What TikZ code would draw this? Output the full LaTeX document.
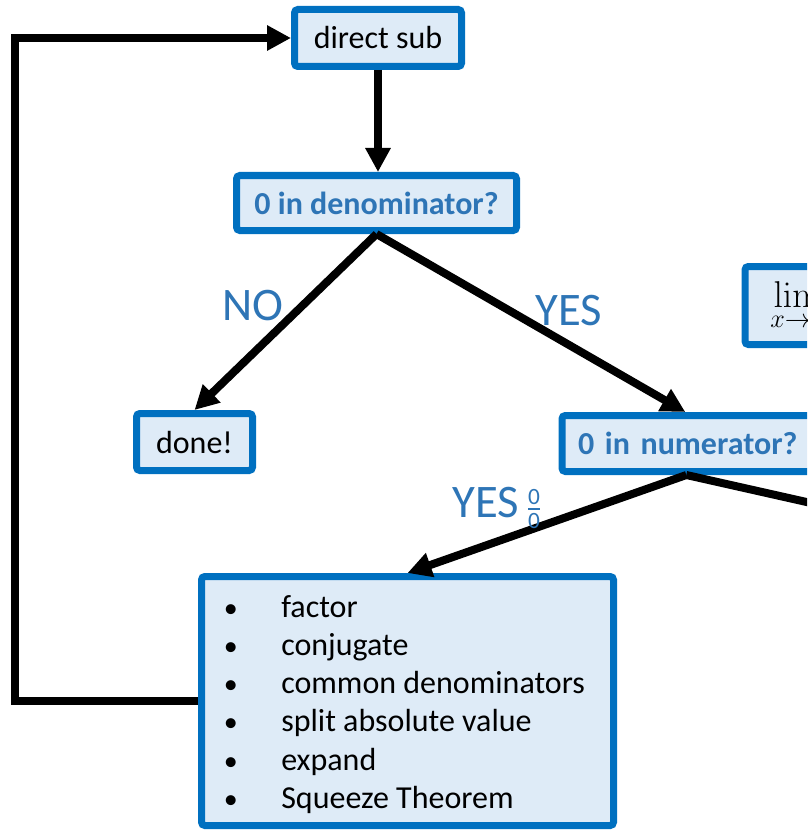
\RequirePackage{fix-cm}
\documentclass[tikz,border=0pt]{standalone}
\usepackage{amsmath}
\usepackage[no-math]{fontspec}
\setmainfont{Carlito}
\usetikzlibrary{arrows.meta,calc}
\definecolor{boxblue}{HTML}{0070C0}
\definecolor{boxfill}{HTML}{DEEBF7}
\definecolor{textblue}{HTML}{2E75B6}
\tikzset{
  stepbox/.style={draw=boxblue, fill=boxfill, line width=5.25pt, rounded corners=2.5pt, inner sep=0pt, font=\fontsize{24}{28.7}\selectfont},
  askbox/.style={stepbox, text=textblue, font=\fontsize{24}{28.7}\selectfont\bfseries},
  flow/.style={line width=6pt, -{Triangle[length=18pt,width=18pt]}},
  answer/.style={text=textblue, font=\fontsize{35}{40}\selectfont, inner sep=0pt, anchor=base west}
}
\newcommand\listdot{{\fontsize{21}{22}\selectfont\textbullet}}
\begin{document}
\begin{tikzpicture}[x=0.75pt, y=-0.75pt]
\useasboundingbox (0,0) rectangle (807,831);
\clip (0,0) rectangle (807,831);
\node[stepbox, minimum width=125.25pt, minimum height=42.75pt] (sub) at (378,38) {direct sub};
\node[askbox, minimum width=210pt, minimum height=41.25pt] (den) at (376.5,203) {0 in denominator?};
\node[stepbox, minimum width=87pt, minimum height=42.75pt] (done) at (194.5,442) {done!};
\node[askbox, anchor=west, inner xsep=12pt, text width=170pt, align=left, minimum height=42pt] (num) at (558.5,443.5) {0 in numerator?};
\node[stepbox, anchor=west, inner xsep=19pt, text width=120pt, align=left, minimum height=58.5pt, font=\fontsize{28}{32}\selectfont] (lim) at (741.5,305.5) {$\displaystyle\lim_{x\to a} f(x)$};
\node[stepbox, minimum width=309pt, minimum height=186.75pt] (methods) at (407.5,701) {\hspace*{-4.5pt}\begin{tabular}{@{}p{43pt}@{}l@{}}
\listdot & factor\rule{0pt}{26.1pt}\\
\listdot & conjugate\\
\listdot & common denominators\\
\listdot & split absolute value\\
\listdot & expand\\
\listdot & Squeeze Theorem
\end{tabular}};
\coordinate (numin) at ($(num.north)+(-6,0)$);
\coordinate (numout) at ($(num.south)+(-5,0)$);
\coordinate (numexit) at (900,523);
\coordinate (loopcorner) at (15,701);
\draw[flow] (sub.south) -- (sub.south |- den.north);
\draw[flow] (den.south) -- (done.north);
\draw[flow] (den.south) -- (numin);
\draw[flow] (numout) -- (methods.north);
\draw[line width=6pt] (numout) -- (numexit);
\draw[flow] (methods.west) -- (loopcorner) |- (sub.west);
\node[answer] (no) at (222,320) {NO};
\node[answer] (yes) at (535,325) {YES};
\node[answer] (yeszero) at (452,517) {YES\,$\genfrac{}{}{}{2}{\text{0}}{\text{0}}$};
\end{tikzpicture}
\end{document}
